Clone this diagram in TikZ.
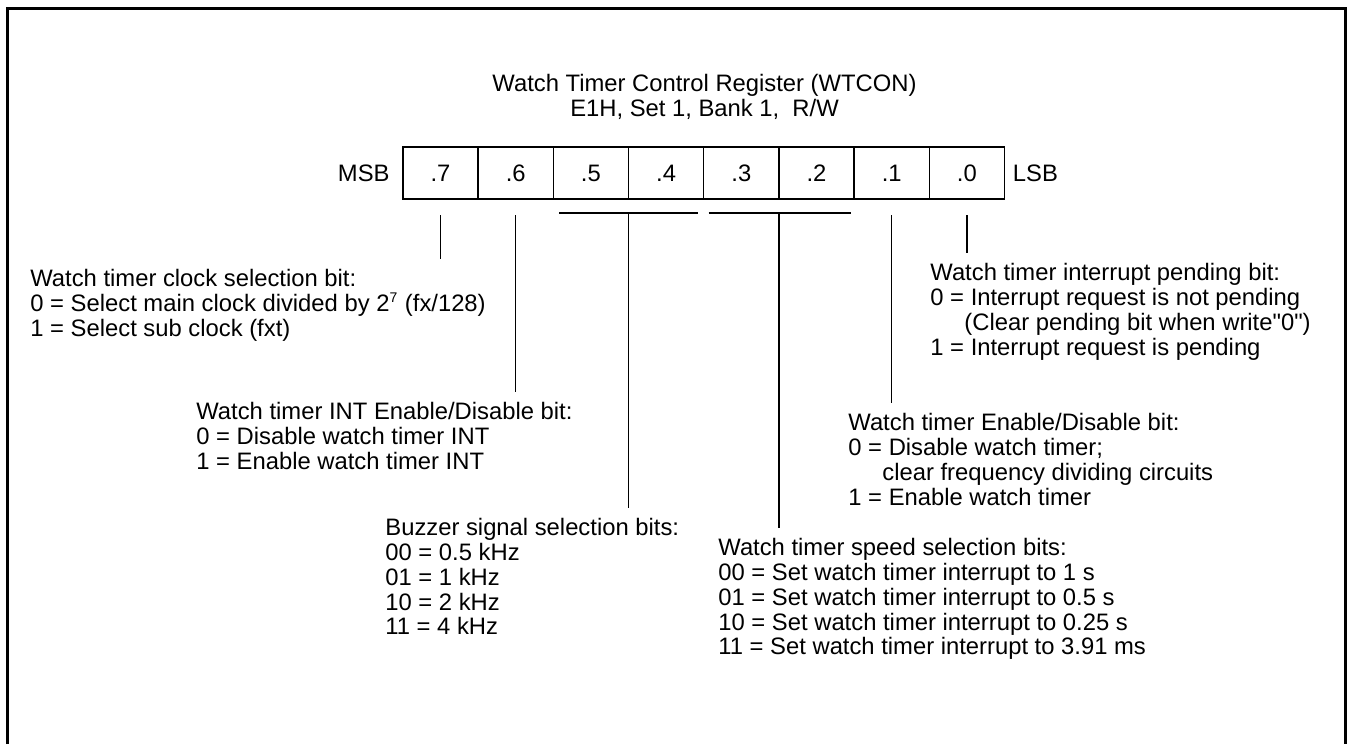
\documentclass[tikz,border=0pt]{standalone}
\usepackage{fontspec}
\setmainfont{Liberation Sans}[Ligatures=TeXOff]
\usetikzlibrary{positioning}

\begin{document}
\begin{tikzpicture}[
        x=0.5pt, y=-0.5pt,
        font=\fontsize{11.9}{12.4}\selectfont,
        bitcell/.style={draw, line width=0.75pt, minimum width=37.6pt, minimum height=26pt, inner sep=0pt, outer sep=0pt},
        desc/.style={align=left, anchor=north west, inner sep=0pt},
        stem/.style={line width=0.75pt, shorten <=8pt, shorten >=5pt},
        bar/.style={line width=0.75pt},
        frame/.style={line width=1.5pt}
    ]
        \useasboundingbox (0,0) rectangle (1347,744);

        % Frame
        \draw[frame] (7,744) -- (7,8) -- (1345,8) -- (1345,744);

        % Title
        \node[align=center] (title) at (704.5,97) {Watch Timer Control Register (WTCON)\\E1H, Set 1, Bank 1,\ \ R/W};

        % Register
        \node[bitcell] (b7) at (440.5,173) {.7};
        \node[bitcell, right=0pt of b7] (b6) {.6};
        \node[bitcell, right=0pt of b6] (b5) {.5};
        \node[bitcell, right=0pt of b5] (b4) {.4};
        \node[bitcell, right=0pt of b4] (b3) {.3};
        \node[bitcell, right=0pt of b3] (b2) {.2};
        \node[bitcell, right=0pt of b2] (b1) {.1};
        \node[bitcell, right=0pt of b1] (b0) {.0};
        \node[left=6.5pt of b7, inner sep=0pt] (msb) {MSB};
        \node[right=4pt of b0, inner sep=0pt] (lsb) {LSB};

        % Bit descriptions
        \node[desc] (clk) at (30,269) {Watch timer clock selection bit:\\0 = Select main clock divided by 2\textsuperscript{\scriptsize 7} (fx/128)\\1 = Select sub clock (fxt)};
        \node[desc] (inten) at (196,402) {Watch timer INT Enable/Disable bit:\\0 = Disable watch timer INT\\1 = Enable watch timer INT};
        \node[desc] (buz) at (385,518) {Buzzer signal selection bits:\\00 = 0.5 kHz\\01 = 1 kHz\\10 = 2 kHz\\11 = 4 kHz};
        \node[desc] (spd) at (718,538) {Watch timer speed selection bits:\\00 = Set watch timer interrupt to 1 s\\01 = Set watch timer interrupt to 0.5 s\\10 = Set watch timer interrupt to 0.25 s\\11 = Set watch timer interrupt to 3.91 ms};
        \node[desc] (wten) at (848,413) {Watch timer Enable/Disable bit:\\0 = Disable watch timer;\\\hspace*{17pt}clear frequency dividing circuits\\1 = Enable watch timer};
        \node[desc] (pnd) at (930,263) {Watch timer interrupt pending bit:\\0 = Interrupt request is not pending\\\hspace*{17pt}(Clear pending bit when write"0")\\1 = Interrupt request is pending};

        % Connectors
        \draw[stem] (b7.south) -- (b7.south |- clk.north);
        \draw[stem] (b6.south) -- (b6.south |- inten.north);
        \draw[bar] ([xshift=3pt, yshift=-7pt]b5.south west) -- ([xshift=-3pt, yshift=-7pt]b4.south east);
        \draw[stem, shorten <=7pt] (b5.south east) -- (b5.south east |- buz.north);
        \draw[bar] ([xshift=2.5pt, yshift=-7pt]b3.south west) -- ([xshift=-1.5pt, yshift=-7pt]b2.south east);
        \draw[stem, shorten <=7pt] (b3.south east) -- (b3.south east |- spd.north);
        \draw[stem] (b1.south) -- (b1.south |- wten.north);
        \draw[stem] (b0.south) -- (b0.south |- pnd.north);

    \end{tikzpicture}
\end{document}
